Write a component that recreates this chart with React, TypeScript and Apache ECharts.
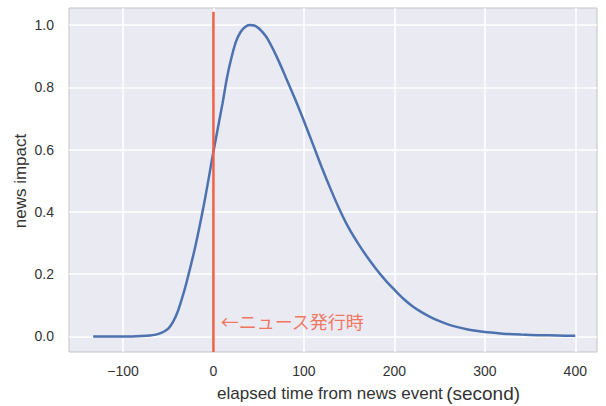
import React, { useEffect, useRef } from "react";
import * as echarts from "echarts";

const elapsedSeconds = [-133, -120, -100, -90, -80, -70, -65, -60, -55, -50, -45, -40, -35, -30, -20, -10, 0, 10, 15, 20, 25, 30, 35, 40, 45, 50, 55, 60, 70, 80, 90, 100, 110, 120, 130, 140, 150, 160, 170, 180, 190, 200, 210, 220, 230, 240, 250, 260, 270, 280, 290, 300, 320, 340, 360, 380, 400];
const newsImpact = [0, 0, 0, 0, 0.001, 0.003, 0.005, 0.009, 0.015, 0.025, 0.045, 0.076, 0.12, 0.171, 0.29, 0.432, 0.594, 0.748, 0.832, 0.897, 0.948, 0.978, 0.994, 1.0, 0.999, 0.99, 0.975, 0.955, 0.898, 0.832, 0.764, 0.692, 0.617, 0.541, 0.47, 0.404, 0.346, 0.298, 0.255, 0.216, 0.181, 0.15, 0.121, 0.097, 0.078, 0.062, 0.049, 0.038, 0.03, 0.023, 0.018, 0.014, 0.009, 0.006, 0.004, 0.003, 0.002];
const xTicks = [-100, 0, 100, 200, 300, 400];
const yTicks = [0, 0.2, 0.4, 0.6, 0.8, 1.0];
const eventLine = [[0, -0.05], [0, 1.043]];
const annotationPoint = [[8, 0.05]];
const annotationText = "←ニュース発行時";
const xLabel = "elapsed time from news event";
const xUnit = "(second)";
const yLabel = "news impact";

const FONT = "'Liberation Sans', Arial, sans-serif";

export default function App() {
  const ref = useRef<HTMLDivElement>(null);
  useEffect(() => {
    if (!ref.current) return;
    const chart = echarts.init(ref.current, null, { renderer: "svg" });
    const curve = elapsedSeconds.map((x, i) => [x, newsImpact[i]]);
    chart.setOption({
      animation: false,
      grid: {
        left: 69,
        right: 9,
        top: 8,
        bottom: 54,
        show: true,
        backgroundColor: "#EAEAF2",
        borderColor: "#c4c4c4",
        borderWidth: 1,
      },
      xAxis: {
        type: "value",
        min: -159.7,
        max: 424,
        axisLine: { show: false },
        axisTick: { show: false },
        splitLine: { show: false },
        axisLabel: {
          customValues: xTicks,
          margin: 12,
          fontSize: 14,
          color: "#333",
          fontFamily: FONT,
          formatter: (v: number) => (v < 0 ? "\u2212" + Math.abs(v) : String(v)),
        },
      },
      yAxis: {
        type: "value",
        min: -0.05,
        max: 1.055,
        axisLine: { show: false },
        axisTick: { show: false },
        splitLine: { show: false },
        axisLabel: {
          customValues: yTicks,
          margin: 15,
          fontSize: 14,
          color: "#333",
          fontFamily: FONT,
          formatter: (v: number) => v.toFixed(1),
        },
      },
      graphic: [
        {
          type: "text",
          x: 217,
          y: 393,
          style: {
            text: "{a|" + xLabel + "} {b|" + xUnit + "}",
            textVerticalAlign: "middle",
            rich: {
              a: { fontSize: 17, fontFamily: FONT, fill: "#333" },
              b: { fontSize: 19, fontFamily: FONT, fill: "#333" },
            },
            fill: "#333",
          },
        },
        {
          type: "text",
          x: 20,
          y: 181,
          rotation: Math.PI / 2,
          style: {
            text: yLabel,
            fontSize: 17,
            fontFamily: FONT,
            fill: "#333",
            textAlign: "center",
            textVerticalAlign: "middle",
          },
        },
      ],
      series: [
        {
          type: "line",
          data: [],
          z: 1,
          silent: true,
          markLine: {
            silent: true,
            z: 1,
            symbol: "none",
            label: { show: false },
            lineStyle: { color: "#ffffff", width: 1.5, type: "solid" },
            data: [
              ...xTicks.map((v) => ({ xAxis: v })),
              ...yTicks.map((v) => ({ yAxis: v })),
            ],
          },
        },
        {
          type: "line",
          data: curve,
          z: 3,
          smooth: 0.3,
          showSymbol: false,
          lineStyle: { color: "#4C72B0", width: 2.5 },
        },
        {
          type: "line",
          data: eventLine,
          z: 4,
          showSymbol: false,
          lineStyle: { color: "#f25f45", width: 2.5, opacity: 1 },
        },
        {
          type: "scatter",
          data: annotationPoint,
          z: 5,
          symbolSize: 0,
          label: {
            show: true,
            position: "right",
            distance: 0,
            formatter: annotationText,
            fontSize: 18,
            color: "#f4563a",
            fontFamily: "'Noto Sans CJK JP', sans-serif",
          },
        },
      ],
    });
    return () => chart.dispose();
  }, []);
  return <div ref={ref} style={{ width: 606, height: 406, position: "absolute", left: 0, top: 0 }} />;
}
